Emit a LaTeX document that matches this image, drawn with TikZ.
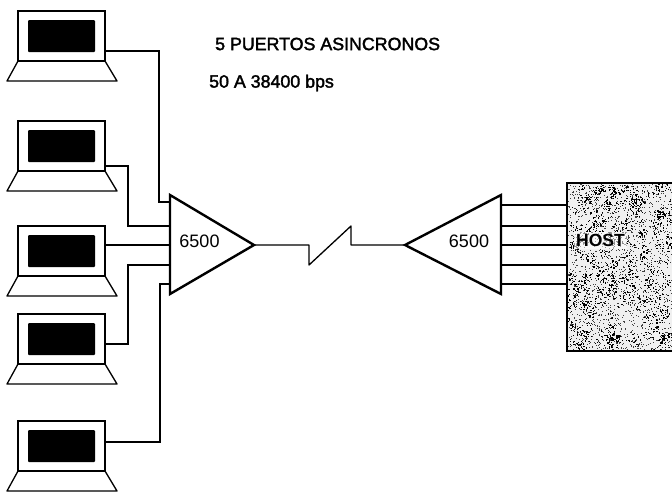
\documentclass[tikz,border=0pt]{standalone}
\usepackage{fontspec}
\setmainfont{Liberation Sans}
\newfontfamily\semib[FakeBold=2]{Liberation Sans}
\tikzset{
  wire/.style={draw=black,line width=1.3pt},
  amp/.style={draw=black,fill=white,line width=2.4pt,line join=miter},
  lapbox/.style={draw=black,fill=white,line width=1.3pt,minimum width=87pt,minimum height=50pt,inner sep=0pt,outer sep=0pt},
  lapscreen/.style={fill=black,draw=none,minimum width=67pt,minimum height=32pt,inner sep=0pt,rounded corners=1pt},
  lapbase/.style={draw=black,line width=1.3pt,line join=round},
  lbl/.style={inner sep=0pt,font=\semib\fontsize{17.8}{20}\selectfont,text=black},
  amplbl/.style={inner sep=0pt,font=\fontsize{18}{20}\selectfont,text=black},
  hostbox/.style={draw=black,line width=2pt,inner sep=0pt,outer sep=0pt,minimum width=108pt,minimum height=168pt}
}
\newcommand{\laptopat}[2]{%
  \node[lapbox] (#1) at (61.5,#2+25) {};
  \node[lapscreen] (#1s) at (61.5,#2+25) {};
  \draw[lapbase] (18,#2+50) -- (7,#2+70) -- (117,#2+70) -- (105,#2+50);
}
\begin{document}
\begin{tikzpicture}[x=1pt,y=-1pt]
\useasboundingbox (0,0) rectangle (672,491);
\laptopat{la}{11}
\laptopat{lb}{121}
\laptopat{lc}{226}
\laptopat{ld}{314}
\laptopat{le}{421}
% connectors, left
\coordinate (ia) at (170,202);
\coordinate (ib) at (170,226);
\coordinate (ic) at (170,245);
\coordinate (id) at (170,265);
\coordinate (ie) at (170,284);
\draw[wire] (la.east |- 0,51) -| (159,202) -- (ia);
\draw[wire] (lb.east |- 0,166) -| (128,226) -- (ib);
\draw[wire] (lc.east |- 0,245) -- (ic);
\draw[wire] (ld.east |- 0,344) -| (128,265) -- (id);
\draw[wire] (le.east |- 0,442) -| (160,284) -- (ie);
% amplifiers
\draw[amp] (170,195) -- (254,245) -- (170,294) -- cycle;
\draw[amp] (501,195) -- (405,245) -- (501,294) -- cycle;
\coordinate (ampL) at (254,245);
\coordinate (ampR) at (405,245);
\node[amplbl] (tL) at (199.5,241) {6500};
\node[amplbl] (tR) at (469,241) {6500};
% link
\draw[wire,line join=round] (ampL) -- (309,245) -- (309,265) -- (351,226) -- (351,245) -- (ampR);
% host
\node[hostbox,anchor=north west,fill=black!6] (host) at (567,183) {};
\begin{scope}
\clip (568,184) rectangle (672,350);
\pgfmathsetseed{4242}
\foreach \i in {1,...,330}{
  \pgfmathsetmacro{\cx}{568+104*rnd}
  \pgfmathsetmacro{\cy}{184+166*rnd}
  \foreach \j in {1,...,5}{
    \pgfmathsetmacro{\px}{\cx+7*rnd-3.5}
    \pgfmathsetmacro{\py}{\cy+7*rnd-3.5}
    \fill[black] (\px,\py) rectangle +(1.2,1.2);
  }
}
\foreach \i in {1,...,1500}{
  \pgfmathsetmacro{\px}{568+104*rnd}
  \pgfmathsetmacro{\py}{184+166*rnd}
  \fill[black!75] (\px,\py) rectangle +(1,1);
}
\end{scope}
\draw[black,line width=2pt] (672,351) -- (567,351) -- (567,183) -- (672,183);
\foreach \yy in {205,226,245,265,284}{
  \draw[wire] (501,\yy) -- (host.west |- 0,\yy);
}
\fill[white,opacity=.55] (574,232) rectangle (627,249);
\node[inner sep=0pt,font=\fontsize{17.6}{20}\selectfont\bfseries,anchor=center] (hl) at (600.5,240) {HOST};
% texts
\node[lbl,anchor=west] (t1) at (215,44) {5 PUERTOS ASINCRONOS};
\node[lbl,anchor=west] (t2) at (209,83) {50 A 38400 bps};
\end{tikzpicture}
\end{document}
